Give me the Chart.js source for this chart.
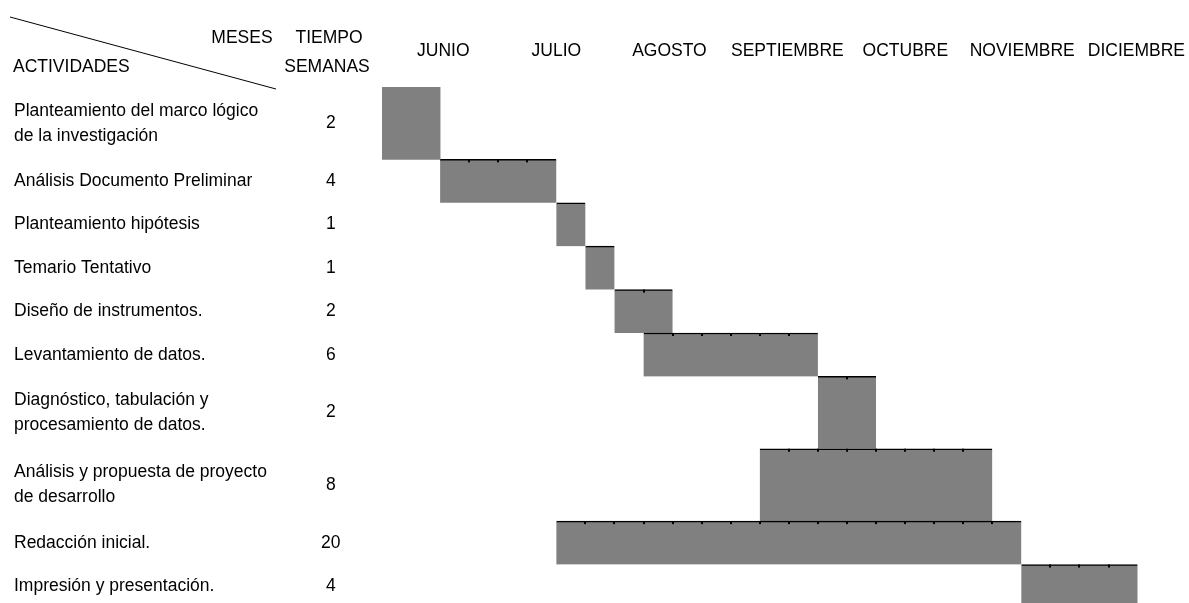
<!DOCTYPE html>
<html>
<head>
<meta charset="utf-8">
<script src="https://cdn.jsdelivr.net/npm/chart.js@4.4.1/dist/chart.umd.min.js"></script>
<style>
  html, body { margin: 0; padding: 0; background: #fff; overflow: hidden; }
  canvas { display: block; }
</style>
</head>
<body>
<canvas id="ganttChart" width="1189" height="603"></canvas>
<script>
// Cronograma de actividades
const activities = [
    ['Planteamiento del marco lógico', 'de la investigación'],
    'Análisis Documento Preliminar',
    'Planteamiento hipótesis',
    'Temario Tentativo',
    'Diseño de instrumentos.',
    'Levantamiento de datos.',
    ['Diagnóstico, tabulación y', 'procesamiento de datos.'],
    ['Análisis y propuesta de proyecto', 'de desarrollo'],
    'Redacción inicial.',
    'Impresión y presentación.'
];
const weeksText = ['2', '4', '1', '1', '2', '6', '2', '8', '20', '4'];
const startWeek = [0, 2, 6, 7, 8, 9, 15, 13, 6, 22];
const endWeek = [2, 6, 7, 8, 10, 15, 17, 21, 22, 26];
const months = ['JUNIO', 'JULIO', 'AGOSTO', 'SEPTIEMBRE', 'OCTUBRE', 'NOVIEMBRE', 'DICIEMBRE'];

// layout: where the month headings sit (in weeks)
const monthPos = [2.11, 6.0, 9.89, 13.95, 18.01, 22.03, 25.96];
const FONT = '"Liberation Sans", Arial, sans-serif';
const GRAY = '#808080';

// rows with two text lines are taller (5 units vs 3)
const rowUnits = activities.map(a => Array.isArray(a) ? 5 : 3);
const rowCenters = [];
let acc = 0;
rowUnits.forEach(u => { rowCenters.push(acc + u / 2); acc += u; });

function rowPoints(units) {
    const pts = [];
    activities.forEach((a, i) => {
        if (rowUnits[i] === units) {
            pts.push({ x: [startWeek[i], endWeek[i]], y: rowCenters[i], row: i });
        }
    });
    return pts;
}

const barStyle = {
    backgroundColor: GRAY,
    borderColor: '#000',
    borderSkipped: false,
    borderWidth: ctx => ctx.raw && ctx.raw.row === 0 ? 0 : { top: 1.5, right: 0, bottom: 0, left: 0 },
    grouped: false
};

function noPadding(axis) {
    axis.paddingTop = 0;
    axis.paddingBottom = 0;
    axis.paddingLeft = 0;
    axis.paddingRight = 0;
}

// header cell + little week marks on top of the bars
const ganttDecor = {
    id: 'ganttDecor',
    afterDatasetsDraw(chart) {
        const c = chart.ctx;
        const xs = chart.scales.x;
        c.save();
        c.fillStyle = '#000';
        chart.data.datasets.forEach((ds, di) => {
            const meta = chart.getDatasetMeta(di);
            meta.data.forEach((bar, j) => {
                const p = ds.data[j];
                if (p.row === 0) return;
                const top = bar.y - bar.height / 2;
                for (let w = p.x[0] + 1; w < p.x[1]; w++) {
                    const px = Math.round(xs.getPixelForValue(w));
                    c.fillRect(px - 1, top, 2, 3);
                }
            });
        });
        c.restore();
    },
    afterDraw(chart) {
        const c = chart.ctx;
        c.save();
        c.strokeStyle = '#000';
        c.lineWidth = 1;
        c.beginPath();
        c.moveTo(10, 17);
        c.lineTo(276, 89);
        c.stroke();

        c.fillStyle = '#000';
        c.font = '17.5px ' + FONT;
        c.textBaseline = 'middle';
        c.textAlign = 'center';
        c.fillText('MESES', 242, 38);
        c.fillText('TIEMPO', 329, 38);
        c.fillText('SEMANAS', 327, 67);
        c.textAlign = 'left';
        c.fillText('ACTIVIDADES', 13, 67);
        c.restore();
    }
};

Chart.defaults.font.family = FONT;
Chart.defaults.font.size = 17.5;
Chart.defaults.color = '#000';

const labelFont = { family: FONT, size: 17.5, lineHeight: 25 / 17.5 };

new Chart(document.getElementById('ganttChart'), {
    type: 'bar',
    data: {
        datasets: [
            { ...barStyle, data: rowPoints(3), barThickness: 43.4 },
            { ...barStyle, data: rowPoints(5), barThickness: 72.4 }
        ]
    },
    options: {
        indexAxis: 'y',
        responsive: false,
        animation: false,
        layout: { padding: { left: 14, right: 0, top: 0, bottom: 0 } },
        plugins: {
            legend: { display: false },
            tooltip: { enabled: false }
        },
        scales: {
            x: {
                type: 'linear',
                position: 'top',
                offset: false,
                min: 0,
                max: 27.77,
                grid: { display: false, drawTicks: false },
                border: { display: false },
                afterFit(axis) { axis.height = 87; noPadding(axis); },
                afterBuildTicks(axis) { axis.ticks = monthPos.map(v => ({ value: v })); },
                ticks: {
                    autoSkip: false,
                    maxRotation: 0,
                    padding: 23.5,
                    font: labelFont,
                    callback: (v, i) => months[i]
                }
            },
            y: {
                type: 'linear',
                position: 'left',
                offset: false,
                weight: 2,
                reverse: true,
                min: 0,
                max: 35.66,
                grid: { display: false, drawTicks: false },
                border: { display: false },
                afterFit(axis) { axis.width = 276; noPadding(axis); },
                afterBuildTicks(axis) { axis.ticks = rowCenters.map(v => ({ value: v })); },
                ticks: {
                    autoSkip: false,
                    crossAlign: 'far',
                    padding: 0,
                    font: labelFont,
                    callback: (v, i) => activities[i]
                }
            },
            y2: {
                type: 'linear',
                position: 'left',
                offset: false,
                weight: 1,
                reverse: true,
                min: 0,
                max: 35.66,
                grid: { display: false, drawTicks: false },
                border: { display: false },
                afterFit(axis) { axis.width = 92; noPadding(axis); },
                afterBuildTicks(axis) { axis.ticks = rowCenters.map(v => ({ value: v })); },
                ticks: {
                    autoSkip: false,
                    crossAlign: 'center',
                    padding: 41.5,
                    font: labelFont,
                    callback: (v, i) => weeksText[i]
                }
            }
        }
    },
    plugins: [ganttDecor]
});
</script>
</body>
</html>
